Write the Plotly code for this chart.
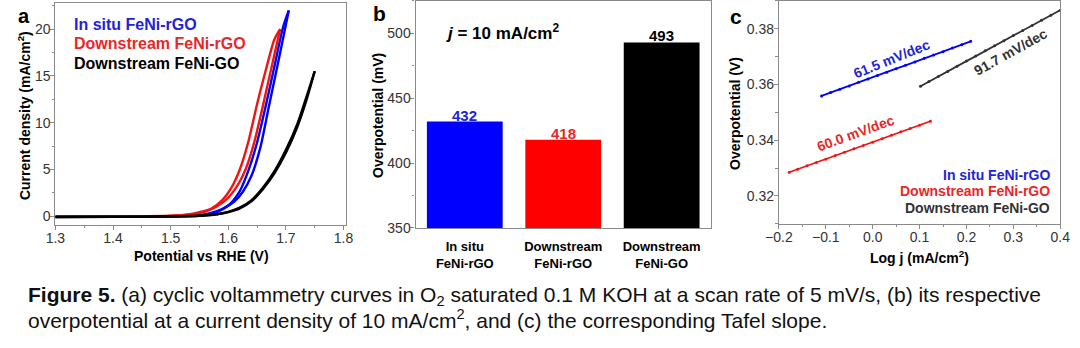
import plotly.graph_objects as go

W, H = 1080, 348
FONT = "Liberation Sans"
BLUE, RED, BLACK, GREY = "#0000ff", "#f01414", "#000000", "#333333"
BLUE_TXT, RED_TXT = "#2323d6", "#e82828"

# ---- (a) cyclic voltammetry, forward / reverse sweeps ----
insitu_fwd_v = [1.30, 1.40, 1.50, 1.55, 1.57, 1.59, 1.61, 1.625, 1.64, 1.655, 1.67, 1.685, 1.70, 1.705]
insitu_fwd_j = [-0.05, -0.03, 0.02, 0.12, 0.35, 0.80, 1.55, 2.6, 4.3, 7.2, 11.6, 16.0, 20.5, 22.0]
insitu_rev_v = [1.705, 1.695, 1.68, 1.665, 1.65, 1.635, 1.62, 1.60, 1.58, 1.56, 1.54, 1.50, 1.40, 1.30]
insitu_rev_j = [22.0, 20.2, 16.0, 11.8, 7.9, 4.9, 2.7, 1.15, 0.45, 0.15, 0.05, 0.0, -0.04, -0.06]

down_r_fwd_v = [1.30, 1.40, 1.50, 1.54, 1.56, 1.58, 1.60, 1.615, 1.63, 1.645, 1.66, 1.675, 1.69]
down_r_fwd_j = [-0.05, -0.02, 0.05, 0.22, 0.5, 1.05, 2.0, 3.2, 5.0, 7.9, 11.8, 15.9, 20.0]
down_r_rev_v = [1.69, 1.68, 1.665, 1.65, 1.635, 1.62, 1.605, 1.59, 1.57, 1.55, 1.53, 1.50, 1.40, 1.30]
down_r_rev_j = [20.0, 18.9, 15.6, 12.0, 8.0, 5.0, 3.0, 1.75, 0.8, 0.45, 0.2, 0.04, -0.03, -0.05]

down_g_fwd_v = [1.30, 1.40, 1.50, 1.55, 1.58, 1.60, 1.62, 1.64, 1.66, 1.68, 1.70, 1.72, 1.735, 1.75]
down_g_fwd_j = [-0.08, -0.06, -0.02, 0.05, 0.2, 0.45, 0.85, 1.6, 2.9, 4.6, 6.8, 9.6, 12.3, 15.5]
down_g_rev_v = [1.75, 1.74, 1.72, 1.70, 1.68, 1.66, 1.64, 1.62, 1.60, 1.58, 1.55, 1.50, 1.40, 1.30]
down_g_rev_j = [15.5, 13.6, 9.9, 7.1, 4.8, 3.05, 1.7, 0.92, 0.48, 0.22, 0.06, -0.01, -0.05, -0.07]

# ---- (b) overpotential at 10 mA/cm2 ----
samples = ["In situ<br>FeNi-rGO", "Downstream<br>FeNi-rGO", "Downstream<br>FeNi-GO"]
overpotential = [432, 418, 493]

# ---- (c) Tafel plots ----
tafel_insitu_x = [-0.109, -0.09, -0.07, -0.05, -0.03, -0.01, 0.01, 0.03, 0.05, 0.07, 0.09, 0.11, 0.13, 0.15, 0.17, 0.19, 0.209]
tafel_insitu_y = [0.3559, 0.3571, 0.3583, 0.3595, 0.3608, 0.3620, 0.3632, 0.3644, 0.3657, 0.3669, 0.3681, 0.3694, 0.3706, 0.3718, 0.3731, 0.3743, 0.3755]
tafel_down_r_x = [-0.178, -0.16, -0.14, -0.12, -0.10, -0.08, -0.06, -0.04, -0.02, 0.00, 0.02, 0.04, 0.06, 0.08, 0.10, 0.123]
tafel_down_r_y = [0.3285, 0.3296, 0.3308, 0.3320, 0.3332, 0.3345, 0.3357, 0.3369, 0.3381, 0.3393, 0.3405, 0.3418, 0.3430, 0.3442, 0.3454, 0.3468]
tafel_down_g_x = [0.102, 0.12, 0.14, 0.16, 0.18, 0.20, 0.22, 0.24, 0.26, 0.28, 0.30, 0.32, 0.34, 0.36, 0.38, 0.40, 0.41]
tafel_down_g_y = [0.3594, 0.3611, 0.3629, 0.3647, 0.3666, 0.3684, 0.3702, 0.3721, 0.3739, 0.3757, 0.3776, 0.3794, 0.3812, 0.3831, 0.3849, 0.3867, 0.3876]
tafel_slopes = ["61.5 mV/dec", "60.0 mV/dec", "91.7 mV/dec"]

legend_names = ["In situ FeNi-rGO", "Downstream FeNi-rGO", "Downstream FeNi-GO"]


def px(x):
    return x / W


def py(y):
    return 1 - y / H


fig = go.Figure()

# panel a
for v1, j1, v2, j2, col in [
    (insitu_fwd_v, insitu_fwd_j, insitu_rev_v, insitu_rev_j, BLUE),
    (down_r_fwd_v, down_r_fwd_j, down_r_rev_v, down_r_rev_j, RED),
    (down_g_fwd_v, down_g_fwd_j, down_g_rev_v, down_g_rev_j, BLACK),
]:
    for vv, jj in [(v1, j1), (v2, j2)]:
        fig.add_trace(go.Scatter(x=vv, y=jj, mode="lines", xaxis="x", yaxis="y",
                                 line=dict(color=col, width=2.4, shape="spline", smoothing=0.8),
                                 showlegend=False, hoverinfo="skip"))

# panel b
bar_txt_colors = [BLUE_TXT, RED_TXT, BLACK]
fig.add_trace(go.Bar(x=[0, 1, 2], y=overpotential, xaxis="x2", yaxis="y2",
                     marker=dict(color=[BLUE, "#ff0000", BLACK], line=dict(width=0)),
                     width=0.77, showlegend=False, hoverinfo="skip"))

# panel c
for xx, yy, col in [
    (tafel_insitu_x, tafel_insitu_y, BLUE),
    (tafel_down_r_x, tafel_down_r_y, RED),
    (tafel_down_g_x, tafel_down_g_y, GREY),
]:
    fig.add_trace(go.Scatter(x=xx, y=yy, mode="lines+markers", xaxis="x3", yaxis="y3",
                             line=dict(color=col, width=1.8),
                             marker=dict(color=col, size=3),
                             showlegend=False, hoverinfo="skip"))

axis_common = dict(showline=True, linecolor="#8a8a8a", linewidth=1.2, mirror=True,
                   ticks="outside", ticklen=4, tickcolor="#8a8a8a", showgrid=False,
                   zeroline=False, tickfont=dict(family=FONT, size=14, color="#333333"))
minor_c = dict(ticks="outside", ticklen=2.5, tickcolor="#8a8a8a")

fig.update_layout(
    width=W, height=H, margin=dict(l=0, r=0, t=0, b=0),
    paper_bgcolor="white", plot_bgcolor="white",
    font=dict(family=FONT, color="#000"),
    xaxis=dict(domain=[px(42.3), px(340)], range=[1.3, 1.805], tickvals=[1.3, 1.4, 1.5, 1.6, 1.7, 1.8],
               ticktext=["1.3", "1.4", "1.5", "1.6", "1.7", "1.8"], anchor="y", ticklabelstandoff=-4,
               minor=dict(dtick=0.05, tick0=1.3, **minor_c), **axis_common),
    yaxis=dict(domain=[py(230), py(3)], range=[-0.9, 22.8], tickvals=[0, 5, 10, 15, 20], anchor="x",
               ticklabelstandoff=-3,
               minor=dict(dtick=2.5, tick0=0, **minor_c), **axis_common),
    xaxis2=dict(domain=[px(410.7), px(712.7)], range=[-0.5, 2.5], anchor="y2",
                tickvals=[0, 1, 2], ticktext=samples, ticklabelstandoff=6,
                **{**axis_common, "ticks": "",
                   "tickfont": dict(family=FONT, size=13, color="#000", weight="bold")}),
    yaxis2=dict(domain=[py(233.3), py(1)], range=[350, 525], tickvals=[350, 400, 450, 500], anchor="x2",
                ticklabelstandoff=-3,
                minor=dict(dtick=25, tick0=350, **minor_c), **axis_common),
    xaxis3=dict(domain=[px(782.3), px(1070)], range=[-0.2, 0.4], anchor="y3",
                tickvals=[-0.2, -0.1, 0.0, 0.1, 0.2, 0.3, 0.4], tickformat=".1f", ticklabelstandoff=-4,
                minor=dict(dtick=0.05, tick0=-0.2, **minor_c), **axis_common),
    yaxis3=dict(domain=[py(229), py(1)], range=[0.31, 0.39], anchor="x3",
                tickvals=[0.32, 0.34, 0.36, 0.38], tickformat=".2f", ticklabelstandoff=-3,
                minor=dict(dtick=0.01, tick0=0.31, **minor_c), **axis_common),
)

ann = []


def text(x, y, s, size, color="#000", bold=True, angle=0, xanchor="center"):
    ann.append(dict(x=px(x), y=py(y), xref="paper", yref="paper", text=s, showarrow=False,
                    xanchor=xanchor, yanchor="middle", textangle=angle,
                    font=dict(family=FONT, size=size, color=color,
                              weight="bold" if bold else "normal")))


# bar value labels
for i, (v, c) in enumerate(zip(overpotential, bar_txt_colors)):
    ann.append(dict(x=i, y=v, xref="x2", yref="y2", text=str(v), showarrow=False,
                    xanchor="center", yanchor="bottom", yshift=-4,
                    font=dict(family=FONT, size=15, color=c, weight="bold")))

# panel letters
text(10, 16, "a", 20)
text(374, 14, "b", 21)
text(738, 17, "c", 21)

# axis titles
text(192, 262, "Potential vs RHE (V)", 14)
text(11, 118, "Current density (mA/cm<sup>2</sup>)", 14, angle=-90)
text(373, 118, "Overpotential (mV)", 14, angle=-90)
text(926, 263, "Log j (mA/cm<sup>2</sup>)", 14)
text(738, 116, "Overpotential (V)", 14, angle=-90)

# panel a legend
for i, (name, col) in enumerate(zip(legend_names, [BLUE_TXT, RED_TXT, BLACK])):
    text(59, 25 + 20 * i, name, 16, col, xanchor="left")

# panel b condition
text(500, 33, "<i>j</i> = 10 mA/cm<sup>2</sup>", 17)

# panel c slope labels and legend
text(897, 60, tafel_slopes[0], 14, BLUE_TXT, angle=-22)
text(861, 136, tafel_slopes[1], 14, RED_TXT, angle=-20)
text(1019, 53, tafel_slopes[2], 14, GREY, angle=-29)
for i, (name, col) in enumerate(zip(legend_names, [BLUE_TXT, RED_TXT, GREY])):
    text(1062, 179 + 17 * i, name, 14, col, xanchor="right")

# caption
text(12, 303, "<b>Figure 5.</b> (a) cyclic voltammetry curves in O<sub>2</sub> saturated 0.1 M KOH at a scan rate of 5 mV/s, (b) its respective",
     21, "#111", bold=False, xanchor="left")
text(12, 326, "overpotential at a current density of 10 mA/cm<sup>2</sup>, and (c) the corresponding Tafel slope.",
     21, "#111", bold=False, xanchor="left")

fig.update_layout(annotations=ann)
fig.write_html("out.html")
